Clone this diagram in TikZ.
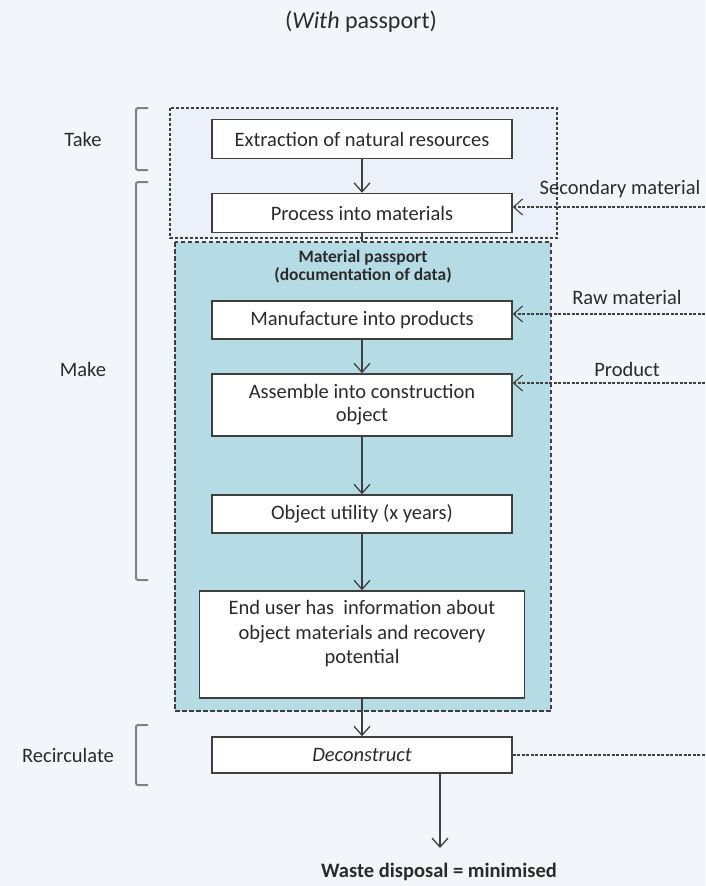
\documentclass[tikz,border=0pt]{standalone}
\usepackage{fontspec}
\setmainfont{Carlito}
\usetikzlibrary{arrows.meta}
\definecolor{bg}{HTML}{F2F5FA}
\definecolor{takefill}{HTML}{ECF0F8}
\definecolor{passfill}{HTML}{B5DCE5}
\definecolor{edge}{HTML}{3F3F3F}
\definecolor{ink}{HTML}{2B2B2B}
\definecolor{brk}{HTML}{808080}
\begin{document}
\begin{tikzpicture}[x=1pt,y=-1pt,
  font=\fontsize{20.5}{23}\selectfont, text=ink,
  stepbox/.style={draw=edge, line width=1.5pt, fill=white, align=center, inner sep=0pt},
  flow/.style={draw=edge, line width=1.3pt, -{Straight Barb[length=9pt,width=16pt,line width=1.3pt]}},
  feed/.style={draw=edge, line width=1.1pt, dash pattern=on 3pt off 1.5pt, -{Straight Barb[length=9pt,width=16pt,line width=1.1pt]}},
  side/.style={font=\fontsize{20.5}{23}\selectfont},
  bracket/.style={draw=brk, line width=2pt, rounded corners=2pt}]
% canvas
\fill[bg] (0,0) rectangle (705,886);
\useasboundingbox (0,0) rectangle (705,886);

\node (title) at (361,22) {\fontsize{24}{28}\selectfont(\textit{With} passport)};

% stage regions
\draw[fill=takefill, draw=edge, line width=2.8pt, dash pattern=on 3pt off 2pt] (170,108) rectangle (557,238);
\draw[fill=passfill, draw=edge, line width=1.3pt, dash pattern=on 4.5pt off 2.5pt] (175,242) rectangle (551,711);

% process steps
\node[stepbox, minimum width=300pt, minimum height=39pt] (ext) at (362,139) {Extraction of natural resources};
\node[stepbox, minimum width=300pt, minimum height=39pt] (proc) at (362,213) {Process into materials};
\node[font=\fontsize{17.5}{18}\selectfont\bfseries, align=center] (pass) at (363,267) {Material passport\\(documentation of data)};
\node[stepbox, minimum width=300pt, minimum height=38pt] (manu) at (362,320) {Manufacture into products};
\node[stepbox, minimum width=300pt, minimum height=62pt] (asm) at (362,405) {Assemble into construction\\object};
\node[stepbox, minimum width=300pt, minimum height=38pt] (util) at (362,514) {Object utility (x years)};
\node[stepbox, minimum width=325pt, minimum height=107pt, text depth=25pt, font=\fontsize{20.5}{24.5}\selectfont] (user) at (362,644.5) {End user has\ \ information about\\object materials and recovery\\potential};
\node[stepbox, minimum width=300pt, minimum height=36pt] (dec) at (362,755) {\textit{Deconstruct}};
\node[font=\fontsize{20.5}{23}\selectfont\bfseries] (waste) at (439,872) {Waste disposal = minimised};

% main flow
\coordinate (passtop) at (362,242);
\coordinate (wasteend) at (440,848);
\draw[flow] (ext) -- (proc);
\draw[draw=edge, line width=1.3pt] (proc) -- (passtop);
\draw[flow] (manu) -- (asm);
\draw[flow] (asm) -- (util);
\draw[flow] (util) -- (user);
\draw[flow] (user) -- (dec);
\draw[flow] (dec.south -| wasteend) -- (wasteend);

% incoming material streams
\coordinate (secin) at (705,207);
\coordinate (rawin) at (705,314);
\coordinate (prodin) at (705,383);
\coordinate (decout) at (705,755);
\draw[feed] (secin) -- (secin -| proc.east);
\draw[feed] (rawin) -- (rawin -| manu.east);
\draw[feed] (prodin) -- (prodin -| asm.east);
\draw[draw=edge, line width=1.1pt, dash pattern=on 3pt off 1.5pt] (dec.east) -- (decout);
\node[side] (seclab) at (620,189) {Secondary material};
\node[side] (rawlab) at (627,297) {Raw material};
\node[side] (prodlab) at (627,369) {Product};

% life-cycle phases
\draw[bracket] (148,108) -- (136,108) -- (136,170) -- (148,170);
\draw[bracket] (148,182) -- (136,182) -- (136,580) -- (148,580);
\draw[bracket] (148,725) -- (136,725) -- (136,785) -- (148,785);
\node[side] (take) at (83,139) {Take};
\node[side] (make) at (83,369) {Make};
\node[side] (recirc) at (68,755) {Recirculate};
\end{tikzpicture}
\end{document}
